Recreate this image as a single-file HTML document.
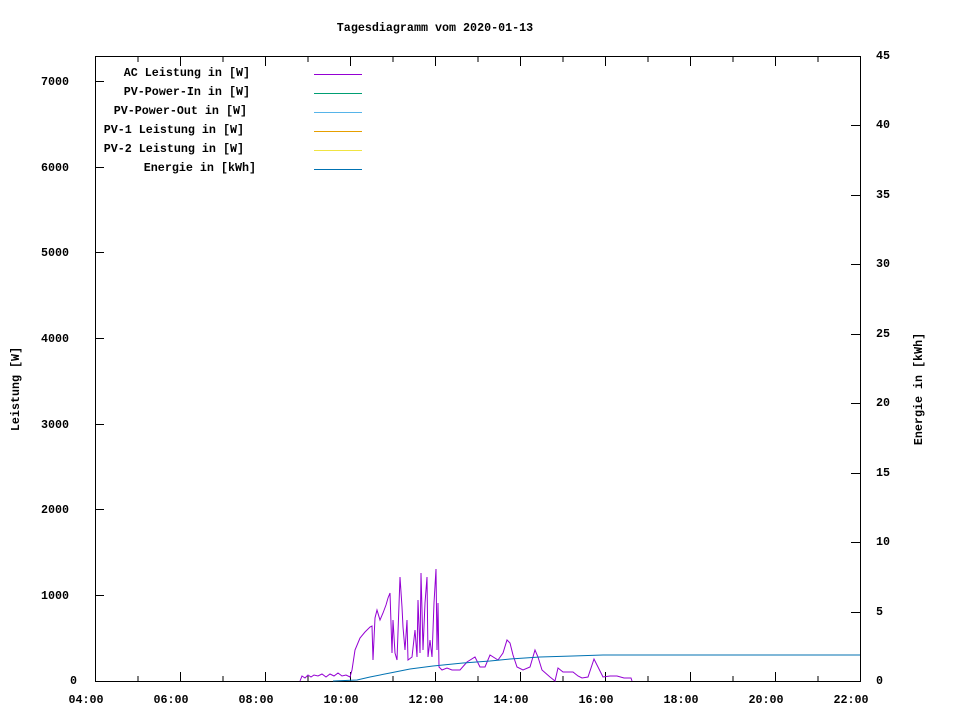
<!DOCTYPE html>
<html><head><meta charset="utf-8"><style>
body{margin:0;background:#fff}
svg text{font-family:"Liberation Mono",monospace;font-size:11.7px;font-weight:bold;fill:#000}
</style></head><body>
<svg width="960" height="720" xmlns="http://www.w3.org/2000/svg">
<rect width="960" height="720" fill="#fff"/>
<text x="435" y="31" text-anchor="middle">Tagesdiagramm vom 2020-01-13</text>
<rect x="95.5" y="56.5" width="765" height="625" fill="none" stroke="#000" stroke-width="1"/>
<g stroke="#000" stroke-width="1">
<path d="M95.5 681v-9M138 681v-5M180.5 681v-9M223 681v-5M265.5 681v-9M308 681v-5M350.5 681v-9M393 681v-5M435.5 681v-9M478 681v-5M520.5 681v-9M563 681v-5M605.5 681v-9M648 681v-5M690.5 681v-9M733 681v-5M775.5 681v-9M818 681v-5M860.5 681v-9"/>
<path d="M95.5 57v9M138 57v5M180.5 57v9M223 57v5M265.5 57v9M308 57v5M350.5 57v9M393 57v5M435.5 57v9M478 57v5M520.5 57v9M563 57v5M605.5 57v9M648 57v5M690.5 57v9M733 57v5M775.5 57v9M818 57v5M860.5 57v9"/>
<path d="M95 595.5h9M95 509.5h9M95 424.5h9M95 338.5h9M95 252.5h9M95 167.5h9M95 81.5h9"/>
<path d="M860 612.5h-9M860 542.5h-9M860 473.5h-9M860 403.5h-9M860 334.5h-9M860 264.5h-9M860 195.5h-9M860 125.5h-9M860 56.5h-9"/>
</g>
<text x="70" y="684">0</text>
<g text-anchor="end">
<text x="69" y="599">1000</text><text x="69" y="513">2000</text><text x="69" y="428">3000</text><text x="69" y="342">4000</text><text x="69" y="256">5000</text><text x="69" y="171">6000</text><text x="69" y="85">7000</text>
</g>
<g text-anchor="start">
<text x="876" y="684">0</text><text x="876" y="615">5</text><text x="876" y="545">10</text><text x="876" y="476">15</text><text x="876" y="406">20</text><text x="876" y="337">25</text><text x="876" y="267">30</text><text x="876" y="198">35</text><text x="876" y="128">40</text><text x="876" y="59">45</text>
</g>
<g text-anchor="middle">
<text x="86" y="703">04:00</text><text x="171" y="703">06:00</text><text x="256" y="703">08:00</text><text x="341" y="703">10:00</text><text x="426" y="703">12:00</text><text x="511" y="703">14:00</text><text x="596" y="703">16:00</text><text x="681" y="703">18:00</text><text x="766" y="703">20:00</text><text x="851" y="703">22:00</text>
</g>
<text transform="translate(19,389) rotate(-90)" text-anchor="middle">Leistung [W]</text>
<text transform="translate(922,389) rotate(-90)" text-anchor="middle">Energie in [kWh]</text>
<g text-anchor="end">
<text x="250" y="76">AC Leistung in [W]</text>
<text x="250" y="95">PV-Power-In in [W]</text>
<text x="247" y="114">PV-Power-Out in [W]</text>
<text x="244" y="133">PV-1 Leistung in [W]</text>
<text x="244" y="152">PV-2 Leistung in [W]</text>
<text x="256" y="171">Energie in [kWh]</text>
</g>
<g stroke-width="1">
<path d="M314 74.5h48" stroke="#9400d3"/>
<path d="M314 93.5h48" stroke="#009e73"/>
<path d="M314 112.5h48" stroke="#56b4e9"/>
<path d="M314 131.5h48" stroke="#e69f00"/>
<path d="M314 150.5h48" stroke="#f0e442"/>
<path d="M314 169.5h48" stroke="#0072b2"/>
</g>
<polyline fill="none" stroke="#9400d3" stroke-width="1" points="300,681 302,676 305,678 308,675 311,677 314,675 318,676 322,674 326,677 330,674 334,676 338,673 342,676 346,675 350,677 352,670 355,650 360,638 365,632 370,627 372,626 373,660 375,618 377,610 380,620 383,613 386,605 388,598 390,593 392,653 393,620 395,653 397,660 400,577 402,607 403,627 405,650 407,620 408,660 412,657 415,630 417,657 418,600 420,653 421,573 422,610 423,650 425,603 427,577 428,657 430,640 432,657 434,603 436,569 437,650 438,603 439,667 442,670 447,668 452,670 460,670 467,662 475,657 480,667 485,667 490,655 498,660 503,653 507,640 510,643 513,655 517,667 523,670 530,667 535,650 538,657 542,670 550,677 555,681 558,668 563,672 573,672 578,676 582,678 588,677 594,659 598,667 603,677 610,676 617,676 624,678 631,678 632,681"/>
<polyline fill="none" stroke="#0072b2" stroke-width="1" points="333,681 357,680 370,677 390,673 410,669 433,666 463,663 490,661 510,659 540,657 573,656 603,655 650,655 860,655"/>
</svg>
</body></html>
